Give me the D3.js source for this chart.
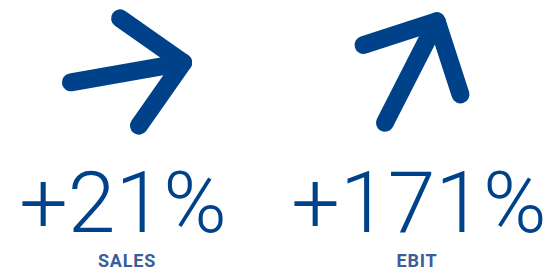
<!DOCTYPE html>
<html>
<head>
<meta charset="utf-8">
<script src="https://cdn.jsdelivr.net/npm/d3@7"></script>
<style>
html,body{margin:0;padding:0;background:#fff;}
svg{display:block;}
</style>
</head>
<body>
<svg id="chart" width="546" height="270"></svg>
<script>
// Data
const categories = ["SALES", "EBIT"];
const changeValues = [21, 171];           // percent change
const arrowAngles = [-10, -63];           // arrow direction, degrees
const valueLabels = changeValues.map(v => "+" + v + "%");

const W = 546, H = 270;
const svg = d3.select("#chart");
const mainColor = "#00428a";
const labelColor = "#3c5c9a";

// layout positions per category
const arrowCenterX = [127, 412];
const valueCenterX = [123, 419];
const labelCenterX = [127, 417];

// arrow shape (local coords, tip at origin, pointing +x)
const shaftLen = 114, barbLen = 77, strokeW = 18;
function arrowPoints(angleDeg) {
  const a = angleDeg * Math.PI / 180;
  const rot = ([px, py]) => [px * Math.cos(a) - py * Math.sin(a), px * Math.sin(a) + py * Math.cos(a)];
  const b = barbLen / Math.SQRT2;
  return {
    tail: rot([-shaftLen, 0]),
    tip: [0, 0],
    barb1: rot([-b, -b]),
    barb2: rot([-b, b])
  };
}

const g = svg.append("g");
const line = d3.line();
categories.forEach((c, i) => {
  const p = arrowPoints(arrowAngles[i]);
  const pts = [p.tail, p.tip, p.barb1, p.barb2];
  const xs = pts.map(d => d[0]), ys = pts.map(d => d[1]);
  const bx = (d3.min(xs) + d3.max(xs)) / 2, by = (d3.min(ys) + d3.max(ys)) / 2;
  const tx = arrowCenterX[i] - bx, ty = 72 - by;
  const ag = g.append("g").attr("transform", `translate(${tx},${ty})`);
  ag.append("path")
    .attr("d", line([p.tail, p.tip]))
    .attr("fill", "none").attr("stroke", mainColor).attr("stroke-width", strokeW)
    .attr("stroke-linecap", "round").attr("stroke-linejoin", "round");
  ag.append("path")
    .attr("d", line([p.barb1, p.tip, p.barb2]))
    .attr("fill", "none").attr("stroke", mainColor).attr("stroke-width", strokeW)
    .attr("stroke-linecap", "round").attr("stroke-linejoin", "round");
});

// values
svg.selectAll("text.val").data(valueLabels).join("text")
  .attr("class", "val")
  .attr("x", (d, i) => valueCenterX[i])
  .attr("y", 232)
  .attr("text-anchor", "middle")
  .attr("font-family", "Roboto, 'DejaVu Sans', sans-serif")
  .attr("font-weight", 300)
  .attr("font-size", 86)
  .attr("fill", mainColor)
  .text(d => d);

svg.selectAll("text.cat").data(categories).join("text")
  .attr("class", "cat")
  .attr("x", (d, i) => labelCenterX[i])
  .attr("y", 267)
  .attr("text-anchor", "middle")
  .attr("font-family", "Roboto, 'DejaVu Sans', sans-serif")
  .attr("font-weight", 700)
  .attr("font-size", 18)
  .attr("letter-spacing", 0.8)
  .attr("fill", labelColor)
  .text(d => d);
</script>
</body>
</html>
